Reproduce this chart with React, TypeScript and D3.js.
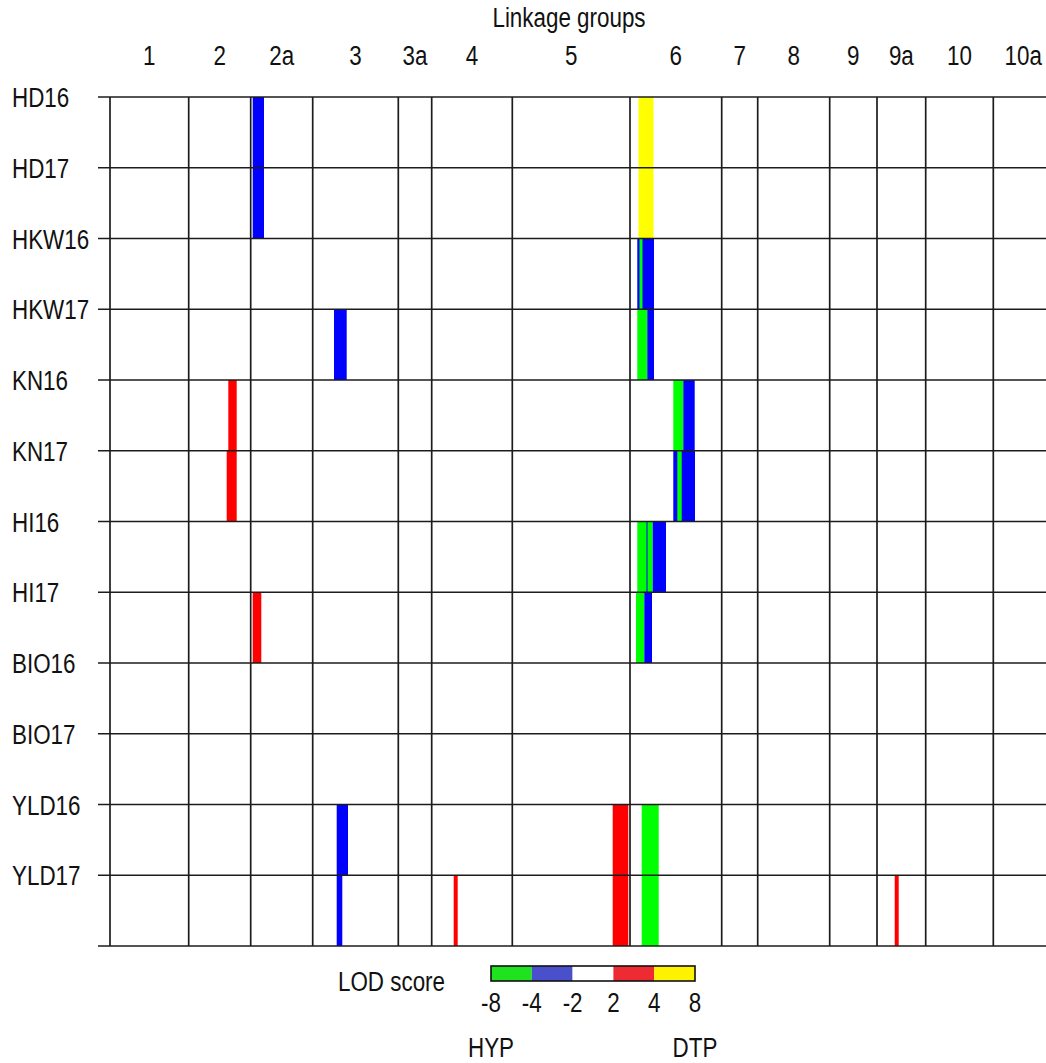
import React, { Component } from "react";
import * as d3 from "d3";

// linkage groups and their lengths (cM)
const groups = ["1", "2", "2a", "3", "3a", "4", "5", "6", "7", "8", "9", "9a", "10", "10a"];
const groupLengths = [78.7, 62, 62, 85.6, 33.4, 80.6, 117.7, 91.7, 36, 72, 47.3, 48.7, 67.6, 60];

// traits, one row each
const traits = ["HD16", "HD17", "HKW16", "HKW17", "KN16", "KN17", "HI16", "HI17", "BIO16", "BIO17", "YLD16", "YLD17"];

// QTL intervals: trait, group, start (cM in group), end, LOD
// narrow ones come after the wide ones so they sit on top
const qtls: [string, string, number, number, number][] = [
  ["HD16", "2a", 2.0, 13.3, -3.2],
  ["HD17", "2a", 2.0, 13.3, -3.0],
  ["HD16", "6", 8.5, 23.5, 5.6],
  ["HD17", "6", 8.5, 23.5, 5.1],
  ["HKW16", "6", 7.3, 24.0, -3.4],
  ["HKW16", "6", 9.5, 12.5, -4.6],
  ["HKW17", "3", 21.3, 34.0, -2.7],
  ["HKW17", "6", 7.3, 17.3, -5.2],
  ["HKW17", "6", 17.3, 24.0, -3.1],
  ["KN16", "2", 39.6, 48.0, 2.9],
  ["KN16", "6", 43.3, 53.3, -4.8],
  ["KN16", "6", 53.3, 64.7, -3.3],
  ["KN17", "2", 38.0, 48.0, 3.1],
  ["KN17", "6", 43.3, 65.0, -3.6],
  ["KN17", "6", 47.3, 51.7, -4.4],
  ["HI16", "6", 7.3, 22.7, -5.5],
  ["HI16", "6", 16.5, 17.5, -2.5],
  ["HI16", "6", 22.7, 36.0, -3.2],
  ["HI17", "2a", 2.0, 10.6, 2.6],
  ["HI17", "6", 6.0, 14.3, -4.9],
  ["HI17", "6", 14.3, 22.0, -2.9],
  ["YLD16", "3", 24.0, 35.3, -3.0],
  ["YLD16", "5", 100.4, 116.0, 3.4],
  ["YLD16", "6", 11.7, 28.7, -4.7],
  ["YLD17", "3", 24.0, 29.6, -2.4],
  ["YLD17", "4", 22.0, 26.0, 2.3],
  ["YLD17", "5", 100.4, 116.0, 3.6],
  ["YLD17", "6", 11.7, 28.7, -5.0],
  ["YLD17", "9a", 17.7, 21.7, 2.2],
];

// LOD legend
const lodBreaks = [-8, -4, -2, 2, 4, 8];
const barColors = ["#00ff00", "#0000ff", "#ffffff", "#ff0000", "#ffff00"];
const legendColors = ["#1fe31f", "#4a4fcc", "#ffffff", "#ee2a33", "#fff200"];

const FONT = "'Liberation Sans', Arial, sans-serif";

class QtlMap extends Component {
  svgRef = React.createRef<SVGSVGElement>();

  componentDidMount() {
    this.draw();
  }

  draw() {
    const svg = d3.select(this.svgRef.current);
    svg.selectAll("*").remove();

    const top = 97,
      bottom = 946,
      left = 110,
      lineStart = 98,
      W = 1046;

    const starts = Array.from(d3.cumsum([0, ...groupLengths]));
    const total = starts[starts.length - 1];
    const groupStart = new Map(groups.map((g, i) => [g, starts[i]]));

    const x = d3.scaleLinear().domain([0, total]).range([left, left + total]);
    const y = d3.scaleBand().domain(traits).range([top, bottom]);
    const color = d3.scaleThreshold<number, string>().domain([-4, -2, 2, 4]).range(barColors);

    const label = (g, tx, ty, txt, anchor) =>
      g
        .append("text")
        .attr("transform", `translate(${tx},${ty}) scale(0.8,1)`)
        .attr("text-anchor", anchor)
        .attr("font-family", FONT)
        .attr("font-size", 28)
        .attr("fill", "#111")
        .text(txt);

    // bars
    svg
      .append("g")
      .selectAll("rect")
      .data(qtls)
      .join("rect")
      .attr("x", (d) => x(groupStart.get(d[1]) + d[2]))
      .attr("width", (d) => x(groupStart.get(d[1]) + d[3]) - x(groupStart.get(d[1]) + d[2]))
      .attr("y", (d) => y(d[0]))
      .attr("height", y.bandwidth())
      .attr("fill", (d) => color(d[4]));

    // grid
    const grid = svg.append("g").attr("stroke", "#1c1c1c").attr("stroke-width", 1.7);
    const rowLines = traits.map((t) => y(t)).concat([bottom]);
    grid
      .selectAll(".h")
      .data(rowLines)
      .join("line")
      .attr("x1", lineStart)
      .attr("x2", Math.max(W, x(total)))
      .attr("y1", (d) => d)
      .attr("y2", (d) => d);
    grid
      .selectAll(".v")
      .data(starts)
      .join("line")
      .attr("x1", (d) => x(d))
      .attr("x2", (d) => x(d))
      .attr("y1", top)
      .attr("y2", bottom);

    // titles and labels
    const texts = svg.append("g");
    label(texts, 569, 27, "Linkage groups", "middle");
    groups.forEach((g, i) => {
      label(texts, x((starts[i] + starts[i + 1]) / 2), 65, g, "middle");
    });
    traits.forEach((t) => {
      label(texts, 12, y(t) + 10, t, "start");
    });

    // legend
    const lx = d3.scaleLinear().domain([0, lodBreaks.length - 1]).range([491, 695]);
    const legend = svg.append("g");
    legend
      .selectAll("rect")
      .data(legendColors)
      .join("rect")
      .attr("x", (d, i) => lx(i))
      .attr("width", (d, i) => lx(i + 1) - lx(i))
      .attr("y", 966)
      .attr("height", 15)
      .attr("fill", (d) => d);
    legend
      .append("rect")
      .attr("x", lx(0))
      .attr("y", 966)
      .attr("width", lx(lodBreaks.length - 1) - lx(0))
      .attr("height", 15)
      .attr("fill", "none")
      .attr("stroke", "#111")
      .attr("stroke-width", 1.6);
    label(legend, 338, 991, "LOD score", "start");
    lodBreaks.forEach((b, i) => {
      label(legend, lx(i), 1012, String(b), "middle");
    });
    label(legend, lx(0), 1057, "HYP", "middle");
    label(legend, lx(lodBreaks.length - 1), 1057, "DTP", "middle");
  }

  render() {
    return (
      <svg
        ref={this.svgRef}
        width={1046}
        height={1063}
        style={{ position: "absolute", left: 0, top: 0, background: "#fff" }}
      ></svg>
    );
  }
}

export default function App() {
  return <QtlMap />;
}
